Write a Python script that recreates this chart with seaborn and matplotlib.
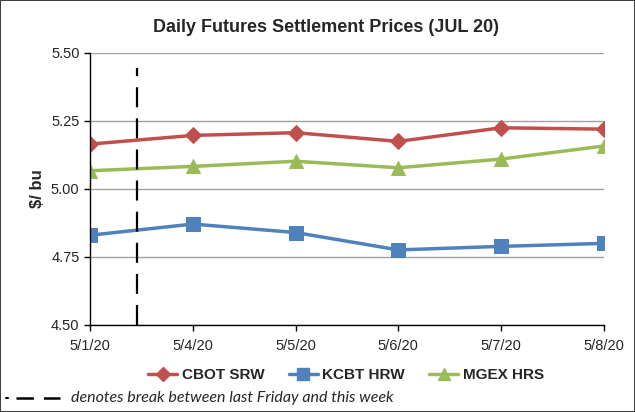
import pandas as pd
import seaborn as sns
import matplotlib.pyplot as plt
from matplotlib.lines import Line2D

# values
dates = ['5/1/20', '5/4/20', '5/5/20', '5/6/20', '5/7/20', '5/8/20']
cbot_srw = [5.165, 5.197, 5.207, 5.175, 5.225, 5.220]
kcbt_hrw = [4.830, 4.871, 4.840, 4.776, 4.789, 4.800]
mgex_hrs = [5.067, 5.083, 5.102, 5.078, 5.110, 5.158]
series_names = ['CBOT SRW', 'KCBT HRW', 'MGEX HRS']
break_pos = 0.46  # between last Friday and this week

df = pd.DataFrame({
    'pos': list(range(len(dates))) * 3,
    'price': cbot_srw + kcbt_hrw + mgex_hrs,
    'series': [n for n in series_names for _ in dates],
})

sns.set_style('white')
plt.rcParams['font.family'] = ['Liberation Sans Narrow', 'Liberation Sans', 'DejaVu Sans']

fig = plt.figure(figsize=(6.35, 4.12), dpi=100, edgecolor='#404040', linewidth=1.2)
ax = fig.add_axes([0.1417, 0.2112, 0.8093, 0.6602])

palette = {'CBOT SRW': '#C0504D', 'KCBT HRW': '#4F81BD', 'MGEX HRS': '#9BBB59'}
markers = {'CBOT SRW': 'D', 'KCBT HRW': 's', 'MGEX HRS': '^'}
msize = {'CBOT SRW': 8, 'KCBT HRW': 10, 'MGEX HRS': 10}

for name in series_names:
    sns.lineplot(data=df[df['series'] == name], x='pos', y='price',
                 color=palette[name], marker=markers[name], markersize=msize[name],
                 markeredgecolor=palette[name], linewidth=2.5, label=name, ax=ax,
                 legend=False)

# break marker
ax.plot([break_pos, break_pos], [4.5, 5.445], color='black', lw=1.6,
        dashes=(9, 5))

ax.set_xlim(0, len(dates) - 1)
ax.set_ylim(4.5, 5.5)
ax.set_xticks(range(len(dates)))
ax.set_xticklabels(dates)
ax.set_yticks([4.5, 4.75, 5.0, 5.25, 5.5])
ax.set_yticklabels(['4.50', '4.75', '5.00', '5.25', '5.50'])
ax.yaxis.grid(True, color='#a0a0a0', lw=1)
ax.set_axisbelow(True)
for s in ['top', 'right']:
    ax.spines[s].set_visible(False)
for s in ['left', 'bottom']:
    ax.spines[s].set_color('black')
    ax.spines[s].set_linewidth(1)
ax.tick_params(axis='both', direction='out', length=4, width=1, color='black',
               labelsize=10.5, bottom=True, left=True)
ax.tick_params(axis='x', pad=6)
ax.set_xlabel('')
ax.set_ylabel('$/ bu', fontsize=12, fontweight='bold', labelpad=4)

fig.suptitle('Daily Futures Settlement Prices (JUL 20)', x=0.513, y=0.955,
             fontsize=13, fontweight='bold')

handles = [Line2D([], [], color=palette[n], marker=markers[n], markersize=msize[n] - 1,
                  lw=2.5) for n in series_names]
fig.legend(handles, series_names, loc='center', bbox_to_anchor=(0.545, 0.09), ncol=3,
           frameon=False, prop={'weight': 'bold', 'size': 11}, handlelength=1.9,
           columnspacing=1.6, handletextpad=0.3)

# footnote
fig.add_artist(Line2D([0.010, 0.012], [0.034, 0.034], color='black', lw=1.5,
                      transform=fig.transFigure))
fig.add_artist(Line2D([0.025, 0.095], [0.034, 0.034], color='black', lw=1.8,
                      dashes=(7, 4), transform=fig.transFigure))
fig.text(0.112, 0.034, 'denotes break between last Friday and this week',
         fontsize=11.5, style='italic', va='center', family=['Lato', 'DejaVu Sans'])

fig.savefig('out.png', dpi=100)
